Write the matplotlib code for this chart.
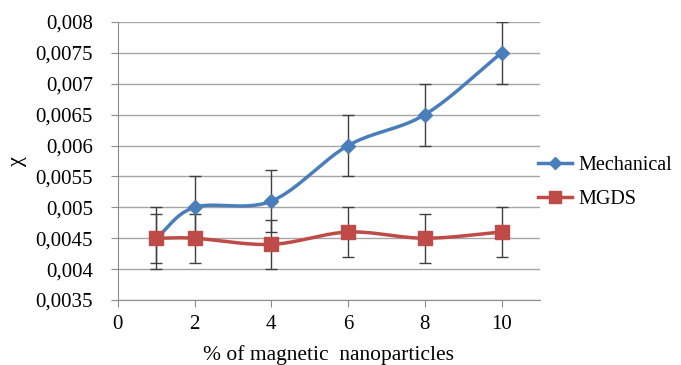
import numpy as np
import matplotlib
matplotlib.use("Agg")
import matplotlib.pyplot as plt
from matplotlib.ticker import FuncFormatter
from matplotlib.lines import Line2D

plt.rcParams['font.family'] = ['Liberation Serif', 'DejaVu Serif']

# data
x = [1, 2, 4, 6, 8, 10]
mechanical = [0.0045, 0.0050, 0.0051, 0.0060, 0.0065, 0.0075]
mechanical_err = [0.0005, 0.0005, 0.0005, 0.0005, 0.0005, 0.0005]
mgds = [0.0045, 0.0045, 0.0044, 0.0046, 0.0045, 0.0046]
mgds_err = [0.0004, 0.0004, 0.0004, 0.0004, 0.0004, 0.0004]
labels = ["Mechanical", "MGDS"]
cores = ["#4A7EBB", "#BE4B48"]


# curva suavizada (tipo Excel) - Catmull-Rom
def suave(xs, ys, n=30):
    xs = np.asarray(xs, float)
    ys = np.asarray(ys, float)
    px = np.concatenate([[2 * xs[0] - xs[1]], xs, [2 * xs[-1] - xs[-2]]])
    py = np.concatenate([[2 * ys[0] - ys[1]], ys, [2 * ys[-1] - ys[-2]]])
    ox, oy = [], []
    t = np.linspace(0, 1, n)
    for i in range(1, len(px) - 2):
        for p, out in ((px, ox), (py, oy)):
            p0, p1, p2, p3 = p[i - 1], p[i], p[i + 1], p[i + 2]
            m1 = (p2 - p0) / 6.0
            m2 = (p3 - p1) / 6.0
            c = ((1 - t) ** 3 * p1 + 3 * (1 - t) ** 2 * t * (p1 + m1)
                 + 3 * (1 - t) * t ** 2 * (p2 - m2) + t ** 3 * p2)
            out.extend(c)
    return ox, oy


fig = plt.figure(figsize=(6.81, 3.65), dpi=100)
ax = fig.add_axes([0.173, 0.178, 0.62, 0.762])

for ys, err, cor, mk, ms in ((mechanical, mechanical_err, cores[0], 'D', 7),
                             (mgds, mgds_err, cores[1], 's', 10)):
    ax.errorbar(x, ys, yerr=err, fmt='none', ecolor='#404040', elinewidth=1,
                capsize=4, capthick=1, zorder=2)
    sx, sy = suave(x, ys)
    ax.plot(sx, sy, color=cor, lw=2.5, zorder=3)
    ax.plot(x, ys, linestyle='none', marker=mk, markersize=ms, color=cor, zorder=4)

ax.set_xlim(0, 11)
ax.set_ylim(0.0035, 0.008)
ax.set_xticks([0, 2, 4, 6, 8, 10])
ax.set_yticks(np.arange(0.0035, 0.00801, 0.0005))
ax.yaxis.set_major_formatter(FuncFormatter(lambda v, p: ("%g" % round(v, 5)).replace('.', ',')))
ax.grid(axis='y', color='#A6A6A6', lw=1)
ax.set_axisbelow(True)
for s in ['top', 'right']:
    ax.spines[s].set_visible(False)
for s in ['left', 'bottom']:
    ax.spines[s].set_color('#8C8C8C')
ax.tick_params(axis='both', colors='#8C8C8C', labelcolor='black', labelsize=15, length=5)
ax.tick_params(axis='y', pad=13)
ax.tick_params(axis='x', pad=6)

ax.set_xlabel("% of magnetic  nanoparticles", fontsize=15.5, labelpad=8)
ax.set_ylabel("χ", fontsize=16, labelpad=6)

handles = [Line2D([], [], color=cores[0], lw=2.5, marker='D', markersize=6),
           Line2D([], [], color=cores[1], lw=2.5, marker='s', markersize=8)]
fig.legend(handles, labels, loc='center left', bbox_to_anchor=(0.79, 0.5),
           frameon=False, fontsize=14.5, handlelength=1.7, labelspacing=0.75,
           handletextpad=0.3, borderpad=0, borderaxespad=0)

plt.savefig("out.png", dpi=100)
